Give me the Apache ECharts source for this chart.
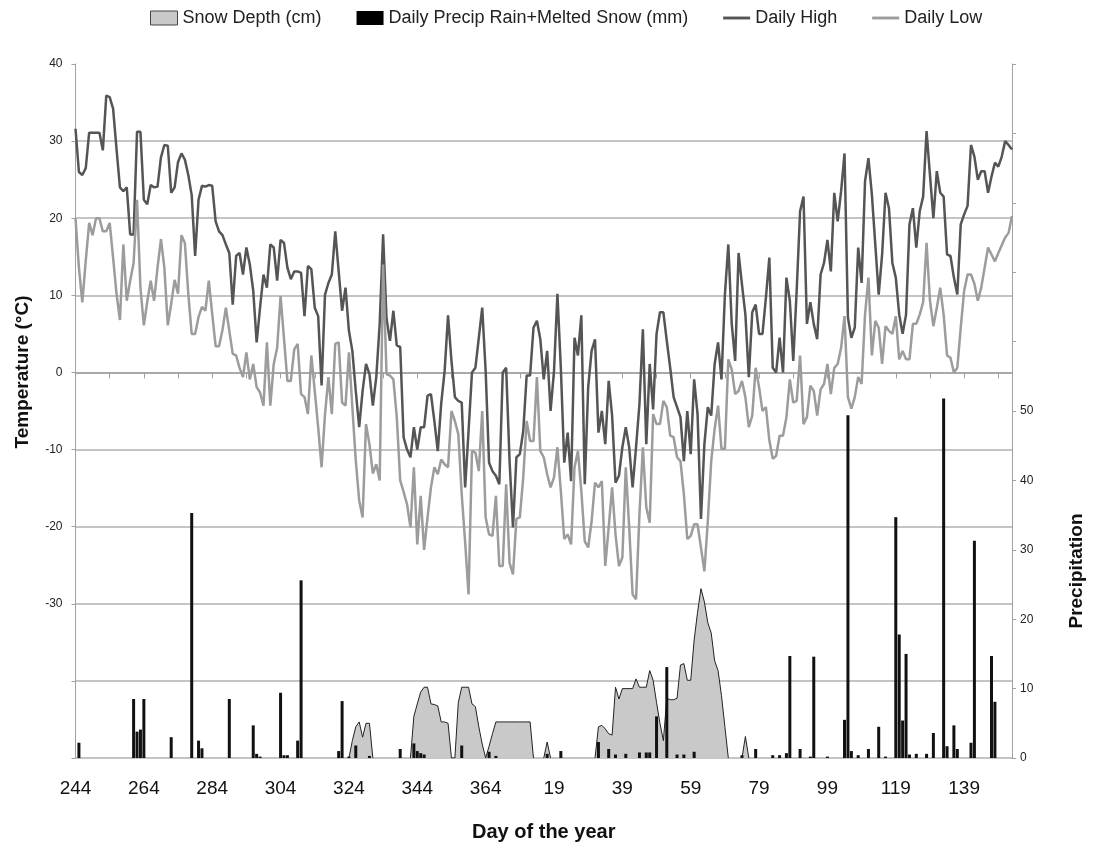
<!DOCTYPE html>
<html>
<head>
<meta charset="utf-8">
<script src="https://cdn.jsdelivr.net/npm/echarts@6/dist/echarts.min.js"></script>
<style>
  html, body { margin: 0; padding: 0; background: #fff; }
  #chart { width: 1097px; height: 853px; }
</style>
</head>
<body>
<div id="chart"></div>
<script>
// Season runs from day 244 (1 Sep) through day 153 of the following year.
const firstDay = 244;
const yearLength = 365;
const dayCount = 275;

// Daily high temperature (°C), one value per day of the season
const dailyHigh = [
  31.6, 26, 25.6, 26.5, 31.1, 31.1, 31.1, 31.1, 28.8, 35.9,
  35.7, 34.2, 29, 24, 23.5, 24, 17.9, 17.9, 31.2, 31.2,
  22.4, 21.8, 24.3, 24, 24.1, 27.9, 29.5, 29.4, 23.3, 24,
  27.3, 28.4, 27.6, 25.6, 23, 15.1, 22.4, 24.2, 24.1, 24.3,
  24.2, 19.6, 18.3, 17.8, 16.6, 15.5, 8.8, 15.1, 15.5, 12.7,
  16.2, 14, 10.6, 3.9, 8.4, 12.7, 11, 16.6, 16.2, 11.9,
  17.2, 16.8, 13.6, 12.1, 13.1, 13.1, 12.9, 7.3, 13.8, 13.4,
  8.4, 7.3, -1.7, 10.1, 11.6, 12.7, 18.3, 13.1, 8, 11,
  5.4, 2.8, -2.4, -7.1, -2.4, 1.1, -0.2, -4.3, -0.6, 6.3,
  17.9, 7, 4.1, 8, 3.5, 3.3, -8.4, -10, -11, -7.1,
  -10, -7.1, -7.1, -3, -2.8, -6.3, -10.2, -4, 0.2, 7.4,
  1.5, -3.2, -3.7, -3.9, -14.9, -7.6, 0, 0.6, 4.5, 8.4,
  0.2, -11.7, -12.8, -13.4, -14.5, 0, 0.6, -11.5, -20.1, -11,
  -10.6, -7.6, -0.4, -0.4, 5.8, 6.7, 4.3, -0.9, 2.8, -5,
  0.2, 10.2, 0.6, -11.7, -7.8, -14.1, 4.5, 2.2, 7.4, -14.5,
  -1.9, 2.8, 4.3, -7.8, -5, -9.3, -1.1, -5.6, -14.3, -13.4,
  -9.7, -7.1, -9.7, -14.9, -9.7, -4.1, 5.6, -9.3, 1.1, -4.8,
  5, 7.8, 7.8, 4.1, 0.6, -3.2, -4.5, -5.8, -11.5, -5,
  -10.6, -0.9, -5.4, -19, -9.3, -4.5, -5.6, 1.1, 3.9, -0.9,
  10.1, 16.6, 6.3, 1.5, 15.5, 11.4, 7.5, -0.6, 7.8, 8.8,
  5, 5, 9.7, 14.9, 0.6, 0, 4.5, 0, 12.3, 9.3,
  1.5, 10.6, 20.9, 22.8, 6.3, 9.1, 6.3, 4.3, 12.7, 14.2,
  17.2, 13.1, 23.3, 19.6, 23.5, 28.4, 7.1, 4.5, 5.8, 16.2,
  11.6, 24.8, 27.8, 23.1, 16.6, 10.1, 15.3, 23.3, 21.3, 14.2,
  12.3, 7.5, 5, 7.5, 19.2, 21.3, 16.2, 20.9, 22.8, 31.3,
  25.6, 20, 26.1, 23.3, 22.8, 15.3, 15.1, 12.3, 10.1, 19.2,
  20.5, 21.6, 29.5, 28, 25, 26.1, 26.1, 23.3, 25.4, 27.2,
  26.7, 28, 30, 29.5, 28.9
];

// Daily low temperature (°C)
const dailyLow = [
  20, 13.6, 9.1, 14.5, 19.4, 17.8, 20, 20, 18.3, 18.3,
  19.4, 14.9, 10.2, 6.8, 16.6, 9.3, 11.9, 14.2, 22.4, 11,
  6.1, 9.2, 11.9, 9.3, 13.6, 17.3, 13.6, 6.1, 8.9, 12,
  10.2, 17.8, 16.8, 10.2, 5, 5, 7.2, 8.5, 8, 11.9,
  7.6, 3.4, 3.4, 5.5, 8.4, 5.4, 2.4, 2.2, 0.6, -0.6,
  2.6, -0.9, 1.1, -1.9, -2.6, -4.3, 3.9, -4.3, 1.1, 3.2,
  9.9, 4.4, -1.1, -1.1, 3, 3.7, -2.8, -3.2, -5.4, 2.2,
  -2.4, -7.1, -12.3, -5.4, -0.6, -5.4, 3.7, 3.9, -3.9, -4.3,
  2.6, -4.5, -11.4, -16.6, -18.8, -6.7, -9.3, -13.1, -11.9, -14,
  14, -0.2, -0.4, -0.9, -5.8, -14, -15.5, -17.1, -20.1, -12.3,
  -22.3, -16, -23, -18.8, -14.9, -12.3, -13.2, -11.3, -11.9, -12.3,
  -5, -6.3, -8, -15.8, -22, -28.8, -10.2, -10.4, -12.8, -5,
  -18.8, -21, -21.2, -16, -25.1, -25.1, -14.5, -24.7, -26.2, -19,
  -18.8, -13.6, -6.3, -8.9, -8.9, -0.6, -10.2, -11, -13.2, -14.9,
  -13.6, -9.7, -15.4, -21.6, -21, -22.3, -12.3, -10.2, -15.4, -21.9,
  -22.7, -19.3, -14.3, -14.9, -14.1, -25.1, -20.1, -14.9, -21, -25.1,
  -24, -12.3, -20.1, -28.8, -29.4, -18.4, -9.7, -17.5, -19.5, -5.4,
  -6.7, -6.7, -3.7, -4.5, -8.2, -8.4, -11, -11.5, -15.8, -21.6,
  -21.2, -19.7, -19.7, -22.7, -25.8, -19.3, -11.5, -7.3, -4.3, -9.9,
  -9.9, 1.7, 0.4, -2.8, -2.4, -1.1, -3.2, -7.1, -5.6, 0.6,
  -1.9, -5, -4.5, -8.8, -11.2, -10.8, -8.2, -8.2, -5.8, -0.9,
  -3.9, -3.7, 2.2, -6.7, -5.8, -1.7, -2.4, -5.6, -2.2, -1.5,
  1.1, -2.8, 0.6, 1.1, 3.2, 7.3, -3.2, -4.7, -3.2, -0.6,
  -1.5, 7.5, 12.3, 2.2, 6.7, 5.8, 1.1, 6, 5.4, 5,
  7.3, 1.7, 2.8, 1.7, 1.7, 6.3, 6.3, 7.5, 9.1, 16.8,
  9.3, 6, 8.4, 11, 7.5, 2.2, 1.9, 0, 0.6, 5.8,
  10.6, 12.7, 12.7, 11.5, 9.3, 11, 13.6, 16.2, 15.3, 14.4,
  15.5, 16.5, 17.5, 18.1, 20.3
];

// Days with precipitation: [day of year, rain + melted snow in mm]
const precipDays = [
  [245, 2.2], [261, 8.5], [262, 3.8], [263, 4.1], [264, 8.5], [272, 3],
  [278, 35.3], [280, 2.5], [281, 1.4], [289, 8.5], [296, 4.7], [297, 0.6],
  [298, 0.2], [304, 9.4], [305, 0.4], [306, 0.4], [309, 2.5], [310, 25.6],
  [321, 1], [322, 8.2], [324, 0.2], [326, 1.8], [330, 0.3], [339, 1.3],
  [343, 2.1], [344, 1], [345, 0.7], [346, 0.5], [357, 1.8], [365, 0.9],
  [2, 0.3], [17, 0.6], [21, 1], [32, 2.3], [35, 1.3], [37, 0.5],
  [40, 0.6], [44, 0.8], [46, 0.8], [47, 0.8], [49, 6], [52, 13.1],
  [55, 0.5], [57, 0.5], [60, 0.9], [74, 0.4], [78, 1.3], [83, 0.4],
  [85, 0.4], [87, 0.7], [88, 14.7], [91, 1.3], [94, 0.2], [95, 14.6],
  [99, 0.2], [104, 5.5], [105, 49.4], [106, 1], [108, 0.4], [111, 1.3],
  [114, 4.5], [116, 0.2], [119, 34.7], [120, 17.8], [121, 5.4], [122, 15],
  [123, 0.5], [125, 0.6], [128, 0.6], [130, 3.6], [133, 51.8], [134, 1.7],
  [136, 4.7], [137, 1.3], [141, 2.2], [142, 31.3], [147, 14.7], [148, 8.1]
];

// Snow cover spells: [first day of year, daily depths in cm]
const snowSpells = [
  [324, [0, 2.5, 4.5, 5.2, 3, 5, 5, 0]],
  [342, [0, 6, 7.8, 9.5, 10.2, 10.2, 7.8, 7.7, 7.5, 5.2, 5.2, 5, 0]],
  [355, [0, 8, 10.2, 10.2, 10.2, 7.8, 7.4, 4.5, 2, 0,
         1.7, 3.5, 5.2, 5.2, 5.2, 5.2, 5.2, 5.2, 5.2, 5.2, 5.2, 5.2, 5.2, 0]],
  [16, [0, 2.3, 0]],
  [31, [0, 4.5, 4.7, 4.2, 3.5, 3.3, 10.2, 8.5, 10, 10,
        10, 10, 11.4, 10.2, 10.2, 10.2, 12.6, 11.2, 8, 5,
        2.5, 8.6, 8.4, 8.4, 8.6, 13.4, 13.6, 11.2, 11.2, 17,
        21, 24.4, 22.5, 19.5, 18, 14, 12.6, 9, 4.5, 0]],
  [74, [0, 3.1, 0]]
];

// Category labels: day-of-year numbers wrapping at the year end
const dayLabels = [];
for (let i = 0; i < dayCount; i++) {
  const d = firstDay + i;
  dayLabels.push(String(d > yearLength ? d - yearLength : d));
}
const indexOfDay = d => (d >= firstDay ? d - firstDay : d + yearLength - firstDay);

const precip = new Array(dayCount).fill(0);
precipDays.forEach(([d, mm]) => { precip[indexOfDay(d)] = mm; });

const snowDepth = new Array(dayCount).fill(null);
snowSpells.forEach(([d, depths]) => {
  const start = indexOfDay(d);
  depths.forEach((v, k) => { snowDepth[start + k] = v; });
});

const labelFont = '"Liberation Sans", Arial, sans-serif';
const gridColor = '#c4c4c4';
const axisColor = '#a0a0a0';
const highColor = '#555555';
const lowColor = '#9c9c9c';
// thin horizontal bar inside a 28x14 box, used as a line swatch in the legend
const lineSwatch = 'path://M0,0 M0,5.5 L28,5.5 L28,8.5 L0,8.5 Z M28,14';

const chart = echarts.init(document.getElementById('chart'), null, { renderer: 'canvas' });
chart.setOption({
  backgroundColor: '#ffffff',
  animation: false,
  textStyle: { fontFamily: labelFont },
  legend: {
    top: 4,
    left: 145,
    itemGap: 35,
    itemWidth: 27,
    itemHeight: 14,
    textStyle: { fontSize: 18, color: '#222', fontFamily: labelFont },
    data: [
      { name: 'Snow Depth (cm)', icon: 'rect',
        itemStyle: { color: '#c9c9c9', borderColor: '#444', borderWidth: 1 } },
      { name: 'Daily Precip Rain+Melted Snow (mm)', icon: 'rect',
        itemStyle: { color: '#000', borderWidth: 0 } },
      { name: 'Daily High', icon: lineSwatch,
        itemStyle: { color: highColor, borderWidth: 0 } },
      { name: 'Daily Low', icon: lineSwatch,
        itemStyle: { color: lowColor, borderWidth: 0 } }
    ]
  },
  grid: { left: 75.5, right: 85, top: 64, bottom: 95, containLabel: false },
  xAxis: {
    type: 'category',
    data: dayLabels,
    boundaryGap: false,
    axisLine: { lineStyle: { color: axisColor, width: 1.5 } },
    axisTick: { interval: 9, length: 6, lineStyle: { color: axisColor } },
    axisLabel: { interval: 19, fontSize: 19, color: '#111', margin: 21, fontFamily: labelFont },
    splitLine: { show: false },
    name: 'Day of the year',
    nameLocation: 'middle',
    nameGap: 64,
    nameTextStyle: { fontSize: 20, fontWeight: 'bold', color: '#111', fontFamily: labelFont }
  },
  yAxis: [
    {
      type: 'value',
      min: -50, max: 40, interval: 10,
      position: 'left',
      axisLine: { show: true, lineStyle: { color: axisColor } },
      axisTick: { show: true, length: 4, lineStyle: { color: axisColor } },
      axisLabel: {
        fontSize: 12, color: '#222', margin: 13,
        formatter: v => (v >= -30 ? String(v) : '')
      },
      splitLine: { show: true, showMaxLine: false, lineStyle: { color: gridColor, width: 2 } }
    },
    {
      type: 'value',
      min: 0, max: 100, interval: 10,
      position: 'right',
      axisLine: { show: true, lineStyle: { color: axisColor } },
      axisTick: { show: true, length: 4, lineStyle: { color: axisColor } },
      axisLabel: {
        fontSize: 12, color: '#222', margin: 8,
        formatter: v => (v <= 50 ? String(v) : '')
      },
      splitLine: { show: false }
    }
  ],
  graphic: [
    {
      type: 'text', x: 23, y: 372, rotation: Math.PI / 2,
      style: { text: 'Temperature (°C)', font: 'bold 19px ' + labelFont, fill: '#111',
               textAlign: 'center', textVerticalAlign: 'middle' }
    },
    {
      type: 'text', x: 1077, y: 571, rotation: Math.PI / 2,
      style: { text: 'Precipitation', font: 'bold 19px ' + labelFont, fill: '#111',
               textAlign: 'center', textVerticalAlign: 'middle' }
    }
  ],
  series: [
    {
      name: 'Snow Depth (cm)',
      type: 'line',
      yAxisIndex: 1,
      data: snowDepth,
      symbol: 'none',
      connectNulls: false,
      lineStyle: { color: '#222', width: 1 },
      itemStyle: { color: '#c9c9c9' },
      areaStyle: { color: '#c9c9c9', opacity: 1 },
      z: 1
    },
    {
      name: 'Daily Precip Rain+Melted Snow (mm)',
      type: 'bar',
      yAxisIndex: 1,
      data: precip,
      barWidth: 3,
      itemStyle: { color: '#111' },
      z: 2
    },
    {
      name: 'Daily High',
      type: 'line',
      yAxisIndex: 0,
      data: dailyHigh,
      symbol: 'none',
      lineStyle: { color: highColor, width: 2.5 },
      itemStyle: { color: highColor },
      z: 3
    },
    {
      name: 'Daily Low',
      type: 'line',
      yAxisIndex: 0,
      data: dailyLow,
      symbol: 'none',
      lineStyle: { color: lowColor, width: 2.5 },
      itemStyle: { color: lowColor },
      z: 3
    }
  ]
});
</script>
</body>
</html>
